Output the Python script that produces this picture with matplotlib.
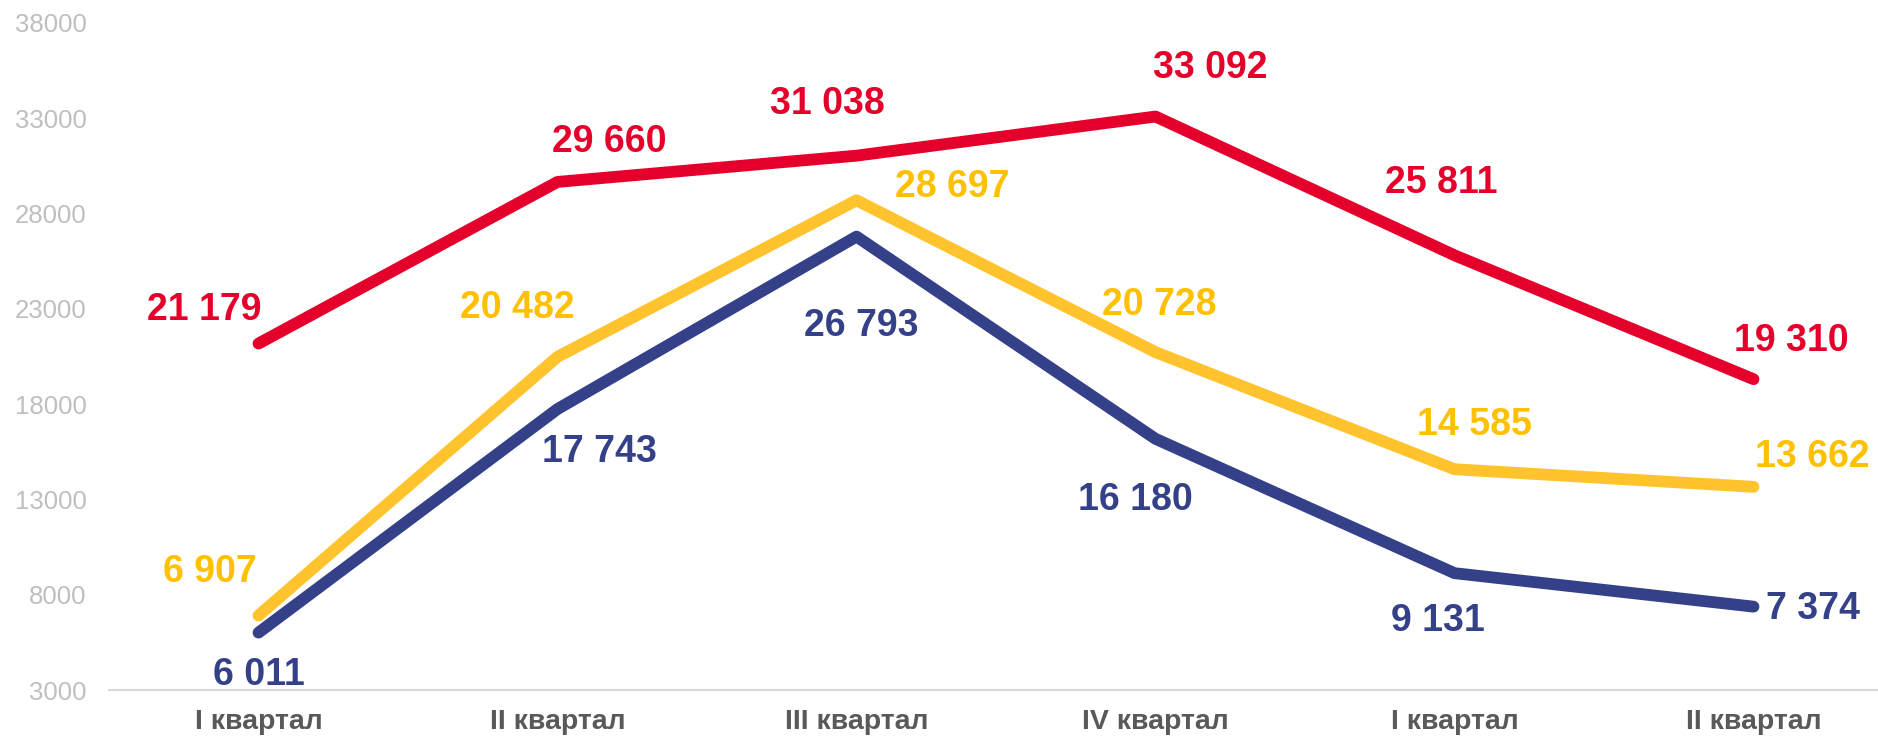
import matplotlib
matplotlib.use("Agg")
import matplotlib.pyplot as plt

# data
quarters = ["I квартал", "II квартал", "III квартал", "IV квартал", "I квартал", "II квартал"]
red_vals = [21179, 29660, 31038, 33092, 25811, 19310]
yellow_vals = [6907, 20482, 28697, 20728, 14585, 13662]
navy_vals = [6011, 17743, 26793, 16180, 9131, 7374]
y_ticks = [3000, 8000, 13000, 18000, 23000, 28000, 33000, 38000]

# label offsets (pixels) relative to each point
red_off = [(-54, 34), (52, 40), (-29, 52), (55, 49), (-13, 72), (38, 38)]
yellow_off = [(-49, 44), (-40, 49), (96, 13), (4, 47), (20, 44), (59, 30)]
navy_off = [(0, -42), (42, -43), (5, -89), (-20, -61), (-17, -48), (59, -2)]

plt.rcParams['font.family'] = ['Liberation Sans', 'DejaVu Sans']

W, H = 1878, 737
fig = plt.figure(figsize=(W / 100, H / 100), dpi=100)
# axes runs past the right edge like the original
ax = fig.add_axes([109 / W, 47 / H, 6 * 299 / W, 667 / H])

x = list(range(len(quarters)))

def fmt(v):
    return f"{v:,}".replace(",", " ")

series = [
    (navy_vals, "#344189", "#344189", navy_off),
    (yellow_vals, "#FFC32E", "#FFC000", yellow_off),
    (red_vals, "#E4002B", "#E4002B", red_off),
]
for vals, lc, tc, offs in series:
    ax.plot(x, vals, color=lc, lw=8.5, solid_capstyle="round", solid_joinstyle="round")
    for xi, v, (dx, dy) in zip(x, vals, offs):
        ax.annotate(fmt(v), (xi, v), xytext=(dx, dy), textcoords="offset pixels",
                    ha="center", va="center", fontsize=27, fontweight="bold",
                    color=tc, annotation_clip=False)

ax.set_xlim(-0.5, 5.5)
ax.set_ylim(3000, 38000)
ax.set_yticks(y_ticks)
ax.set_yticklabels([str(t) for t in y_ticks], fontsize=18.5, color="#BFBFBF")
ax.set_xticks(x)
ax.set_xticklabels(quarters, fontsize=20.5, fontweight="bold", color="#595959")
ax.tick_params(axis="both", length=0)
ax.tick_params(axis="y", pad=16)
ax.tick_params(axis="x", pad=14)

for s in ["top", "right", "left"]:
    ax.spines[s].set_visible(False)
ax.spines["bottom"].set_color("#D9D9D9")
ax.spines["bottom"].set_linewidth(1.5)

fig.savefig("out.png", dpi=100)
